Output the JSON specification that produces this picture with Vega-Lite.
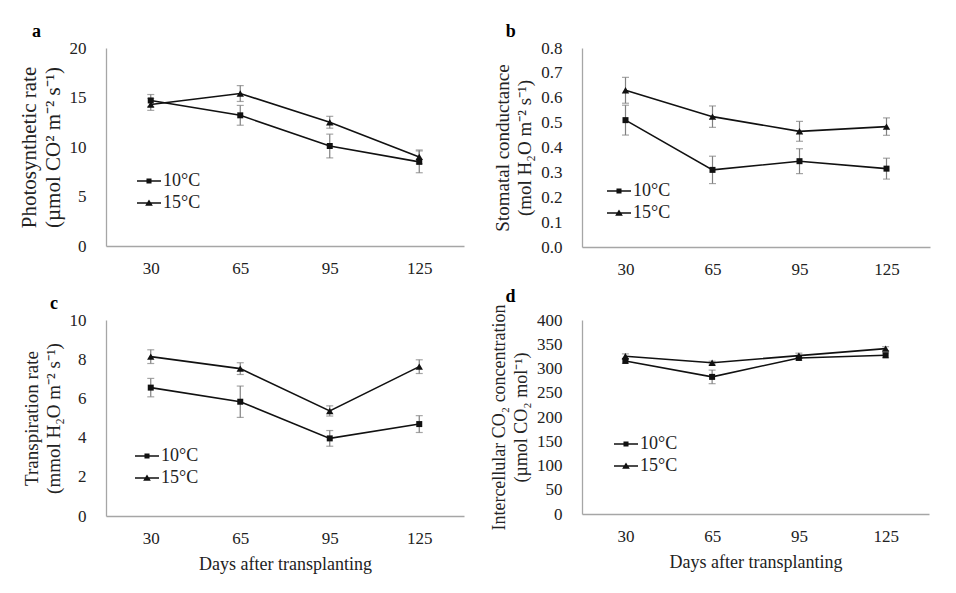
{
  "$schema": "https://vega.github.io/schema/vega-lite/v6.json",
  "background": "white",
  "padding": {"left": 18, "top": 23, "right": 5, "bottom": 5},
  "config": {
    "font": "Liberation Serif",
    "view": {"stroke": null},
    "axis": {"domainColor": "#a6a6a6", "domainWidth": 1.3, "ticks": false, "grid": false, "labelOverlap": false, "labelFont": "Liberation Serif", "labelFontSize": 17, "labelColor": "#222222", "titleFont": "Liberation Serif", "titleFontSize": 18, "titleFontWeight": "normal", "titleColor": "#222222"},
    "axisX": {"labelPadding": 14, "titlePadding": 9, "labelAngle": 0},
    "axisY": {"labelPadding": 20, "titlePadding": 6, "titleLineHeight": 22},
    "legend": {"orient": "none", "title": null, "labelFont": "Liberation Serif", "labelFontSize": 18, "labelColor": "#222222", "symbolSize": 576, "labelOffset": 2, "rowPadding": 1, "padding": 0, "symbolStrokeWidth": 0, "symbolOpacity": 1, "symbolFillColor": "#111111", "symbolStrokeColor": "#111111"},
    "title": {"font": "Liberation Serif", "fontSize": 18, "fontWeight": "bold", "anchor": "start", "frame": "bounds", "color": "#000000", "offset": -2}
  },
  "datasets": {
    "gas": [
      {"panel": "a", "temp": "10°C", "day": 30, "mean": 14.7, "err": 0.6},
      {"panel": "a", "temp": "10°C", "day": 65, "mean": 13.2, "err": 1.0},
      {"panel": "a", "temp": "10°C", "day": 95, "mean": 10.1, "err": 1.2},
      {"panel": "a", "temp": "10°C", "day": 125, "mean": 8.5, "err": 1.1},
      {"panel": "a", "temp": "15°C", "day": 30, "mean": 14.3, "err": 0.6},
      {"panel": "a", "temp": "15°C", "day": 65, "mean": 15.4, "err": 0.8},
      {"panel": "a", "temp": "15°C", "day": 95, "mean": 12.5, "err": 0.6},
      {"panel": "a", "temp": "15°C", "day": 125, "mean": 9.0, "err": 0.7},
      {"panel": "b", "temp": "10°C", "day": 30, "mean": 0.51, "err": 0.06},
      {"panel": "b", "temp": "10°C", "day": 65, "mean": 0.31, "err": 0.055},
      {"panel": "b", "temp": "10°C", "day": 95, "mean": 0.345, "err": 0.05},
      {"panel": "b", "temp": "10°C", "day": 125, "mean": 0.315, "err": 0.042},
      {"panel": "b", "temp": "15°C", "day": 30, "mean": 0.63, "err": 0.052},
      {"panel": "b", "temp": "15°C", "day": 65, "mean": 0.524, "err": 0.043},
      {"panel": "b", "temp": "15°C", "day": 95, "mean": 0.465, "err": 0.04},
      {"panel": "b", "temp": "15°C", "day": 125, "mean": 0.484, "err": 0.035},
      {"panel": "c", "temp": "10°C", "day": 30, "mean": 6.55, "err": 0.47},
      {"panel": "c", "temp": "10°C", "day": 65, "mean": 5.83, "err": 0.8},
      {"panel": "c", "temp": "10°C", "day": 95, "mean": 3.96, "err": 0.4},
      {"panel": "c", "temp": "10°C", "day": 125, "mean": 4.69, "err": 0.43},
      {"panel": "c", "temp": "15°C", "day": 30, "mean": 8.13, "err": 0.35},
      {"panel": "c", "temp": "15°C", "day": 65, "mean": 7.52, "err": 0.3},
      {"panel": "c", "temp": "15°C", "day": 95, "mean": 5.36, "err": 0.26},
      {"panel": "c", "temp": "15°C", "day": 125, "mean": 7.62, "err": 0.35},
      {"panel": "d", "temp": "10°C", "day": 30, "mean": 315.6, "err": 5},
      {"panel": "d", "temp": "10°C", "day": 65, "mean": 282.7, "err": 14},
      {"panel": "d", "temp": "10°C", "day": 95, "mean": 321.8, "err": 5},
      {"panel": "d", "temp": "10°C", "day": 125, "mean": 327.3, "err": 5},
      {"panel": "d", "temp": "15°C", "day": 30, "mean": 325.2, "err": 5},
      {"panel": "d", "temp": "15°C", "day": 65, "mean": 312, "err": 3},
      {"panel": "d", "temp": "15°C", "day": 95, "mean": 326.6, "err": 5},
      {"panel": "d", "temp": "15°C", "day": 125, "mean": 341, "err": 4}
    ]
  },
  "data": {"name": "gas"},
  "columns": 2,
  "spacing": {"column": 26, "row": 10},
  "resolve": {"scale": {"x": "independent", "y": "independent", "shape": "independent"}, "legend": {"shape": "independent"}},
  "concat": [
    {
      "width": 358, "height": 198,
      "title": {"text": "a", "dx": 14},
      "transform": [{"filter": "datum.panel === 'a'"}],
      "encoding": {
        "x": {"field": "day", "type": "ordinal", "sort": [30, 65, 95, 125], "scale": {"type": "point", "padding": 0.5}, "axis": {"title": null}},
        "y": {"field": "mean", "type": "quantitative", "scale": {"domain": [0, 20]}, "axis": {"values": [0, 5, 10, 15, 20], "titleFontSize": 21, "titleLineHeight": 24, "title": ["Photosynthetic rate", "(µmol CO² m⁻² s⁻¹)"]}}
      },
      "layer": [
        {"mark": {"type": "errorbar", "ticks": {"size": 7}, "color": "#808080", "thickness": 1.2}, "encoding": {"yError": {"field": "err"}, "detail": {"field": "temp"}}},
        {"mark": {"type": "line", "color": "#111111", "strokeWidth": 1.6}, "encoding": {"detail": {"field": "temp"}}},
        {"transform": [{"filter": "datum.temp === '10°C'"}], "mark": {"type": "point", "shape": "square", "filled": true, "color": "#111111", "size": 36, "opacity": 1}, "encoding": {}},
        {"transform": [{"filter": "datum.temp === '15°C'"}], "mark": {"type": "point", "shape": "triangle-up", "filled": true, "color": "#111111", "size": 55, "opacity": 1}, "encoding": {}},
        {"mark": {"type": "point", "filled": true, "color": "#111111", "opacity": 0},
         "encoding": {"shape": {"field": "temp", "type": "nominal", "scale": {"domain": ["10°C", "15°C"], "range": ["M-1,-0.065H1V0.065H-1ZM-0.21,-0.21H0.21V0.21H-0.21Z", "M-1,-0.065H1V0.065H-1ZM0,-0.3L0.32,0.22H-0.32Z"]}, "legend": {"legendX": 31, "legendY": 121}}}}
      ]
    },
    {
      "width": 348, "height": 199,
      "title": {"text": "b", "dx": 12},
      "transform": [{"filter": "datum.panel === 'b'"}],
      "encoding": {
        "x": {"field": "day", "type": "ordinal", "sort": [30, 65, 95, 125], "scale": {"type": "point", "padding": 0.5}, "axis": {"title": null}},
        "y": {"field": "mean", "type": "quantitative", "scale": {"domain": [0, 0.8]}, "axis": {"values": [0, 0.1, 0.2, 0.3, 0.4, 0.5, 0.6, 0.7, 0.8], "format": ".1f", "titleFontSize": 19, "title": ["Stomatal conductance", "(mol H₂O m⁻² s⁻¹)"]}}
      },
      "layer": [
        {"mark": {"type": "errorbar", "ticks": {"size": 7}, "color": "#808080", "thickness": 1.2}, "encoding": {"yError": {"field": "err"}, "detail": {"field": "temp"}}},
        {"mark": {"type": "line", "color": "#111111", "strokeWidth": 1.6}, "encoding": {"detail": {"field": "temp"}}},
        {"transform": [{"filter": "datum.temp === '10°C'"}], "mark": {"type": "point", "shape": "square", "filled": true, "color": "#111111", "size": 36, "opacity": 1}, "encoding": {}},
        {"transform": [{"filter": "datum.temp === '15°C'"}], "mark": {"type": "point", "shape": "triangle-up", "filled": true, "color": "#111111", "size": 55, "opacity": 1}, "encoding": {}},
        {"mark": {"type": "point", "filled": true, "color": "#111111", "opacity": 0},
         "encoding": {"shape": {"field": "temp", "type": "nominal", "scale": {"domain": ["10°C", "15°C"], "range": ["M-1,-0.065H1V0.065H-1ZM-0.21,-0.21H0.21V0.21H-0.21Z", "M-1,-0.065H1V0.065H-1ZM0,-0.3L0.32,0.22H-0.32Z"]}, "legend": {"legendX": 25, "legendY": 131}}}}
      ]
    },
    {
      "width": 358, "height": 196,
      "title": {"text": "c", "dx": 28},
      "transform": [{"filter": "datum.panel === 'c'"}],
      "encoding": {
        "x": {"field": "day", "type": "ordinal", "sort": [30, 65, 95, 125], "scale": {"type": "point", "padding": 0.5}, "axis": {"title": "Days after transplanting"}},
        "y": {"field": "mean", "type": "quantitative", "scale": {"domain": [0, 10]}, "axis": {"values": [0, 2, 4, 6, 8, 10], "titleFontSize": 19, "title": ["Transpiration rate", "(mmol H₂O m⁻² s⁻¹)"]}}
      },
      "layer": [
        {"mark": {"type": "errorbar", "ticks": {"size": 7}, "color": "#808080", "thickness": 1.2}, "encoding": {"yError": {"field": "err"}, "detail": {"field": "temp"}}},
        {"mark": {"type": "line", "color": "#111111", "strokeWidth": 1.6}, "encoding": {"detail": {"field": "temp"}}},
        {"transform": [{"filter": "datum.temp === '10°C'"}], "mark": {"type": "point", "shape": "square", "filled": true, "color": "#111111", "size": 36, "opacity": 1}, "encoding": {}},
        {"transform": [{"filter": "datum.temp === '15°C'"}], "mark": {"type": "point", "shape": "triangle-up", "filled": true, "color": "#111111", "size": 55, "opacity": 1}, "encoding": {}},
        {"mark": {"type": "point", "filled": true, "color": "#111111", "opacity": 0},
         "encoding": {"shape": {"field": "temp", "type": "nominal", "scale": {"domain": ["10°C", "15°C"], "range": ["M-1,-0.065H1V0.065H-1ZM-0.21,-0.21H0.21V0.21H-0.21Z", "M-1,-0.065H1V0.065H-1ZM0,-0.3L0.32,0.22H-0.32Z"]}, "legend": {"legendX": 29, "legendY": 124}}}}
      ]
    },
    {
      "width": 347, "height": 194,
      "title": {"text": "d", "dx": 15},
      "transform": [{"filter": "datum.panel === 'd'"}],
      "encoding": {
        "x": {"field": "day", "type": "ordinal", "sort": [30, 65, 95, 125], "scale": {"type": "point", "padding": 0.5}, "axis": {"title": "Days after transplanting"}},
        "y": {"field": "mean", "type": "quantitative", "scale": {"domain": [0, 400]}, "axis": {"values": [0, 50, 100, 150, 200, 250, 300, 350, 400], "title": ["Intercellular CO₂ concentration", "(µmol CO₂ mol⁻¹)"]}}
      },
      "layer": [
        {"mark": {"type": "errorbar", "ticks": {"size": 7}, "color": "#808080", "thickness": 1.2}, "encoding": {"yError": {"field": "err"}, "detail": {"field": "temp"}}},
        {"mark": {"type": "line", "color": "#111111", "strokeWidth": 1.6}, "encoding": {"detail": {"field": "temp"}}},
        {"transform": [{"filter": "datum.temp === '10°C'"}], "mark": {"type": "point", "shape": "square", "filled": true, "color": "#111111", "size": 36, "opacity": 1}, "encoding": {}},
        {"transform": [{"filter": "datum.temp === '15°C'"}], "mark": {"type": "point", "shape": "triangle-up", "filled": true, "color": "#111111", "size": 55, "opacity": 1}, "encoding": {}},
        {"mark": {"type": "point", "filled": true, "color": "#111111", "opacity": 0},
         "encoding": {"shape": {"field": "temp", "type": "nominal", "scale": {"domain": ["10°C", "15°C"], "range": ["M-1,-0.065H1V0.065H-1ZM-0.21,-0.21H0.21V0.21H-0.21Z", "M-1,-0.065H1V0.065H-1ZM0,-0.3L0.32,0.22H-0.32Z"]}, "legend": {"legendX": 32, "legendY": 112}}}}
      ]
    }
  ]
}
